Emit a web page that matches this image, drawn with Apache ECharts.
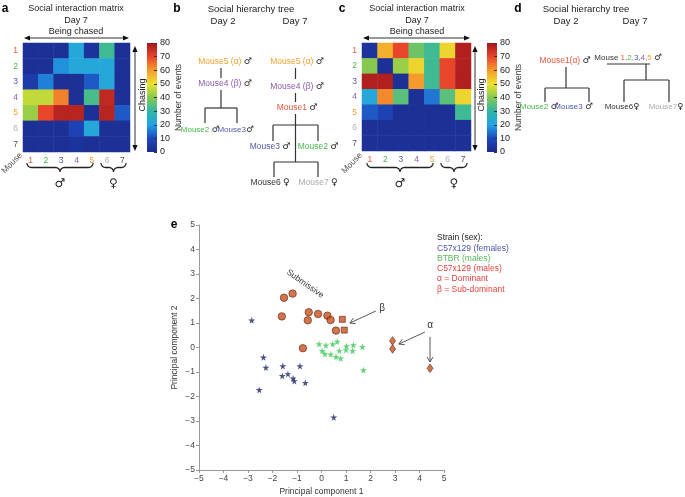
<!DOCTYPE html>
<html><head><meta charset="utf-8">
<script src="https://cdn.jsdelivr.net/npm/echarts@6/dist/echarts.min.js"></script>
<style>html,body{margin:0;padding:0;background:#fff}#c{width:685px;height:497px}</style>
</head><body><div id="c"></div>
<script>
const FONT = 'Liberation Sans, Arial, Helvetica, sans-serif';
// ---------- data ----------
const mice = ['1','2','3','4','5','6','7'];
const mouseColors = ['#e8583c','#45b649','#5058a8','#8c5aa8','#f0a030','#b0b0b0','#505050'];
// rows = chasing mouse, columns = mouse being chased
const matrixA = [
  [2, 2, 2, 22, 3, 32, 2],
  [2, 2, 18, 22, 22, 22, 2],
  [6, 16, 2, 2, 12, 22, 2],
  [46, 46, 63, 2, 33, 76, 2],
  [42, 70, 77, 77, 2, 77, 12],
  [2, 2, 2, 8, 22, 2, 2],
  [2, 2, 2, 3, 2, 2, 2]
];
const matrixC = [
  [3, 57, 70, 37, 32, 52, 78],
  [40, 2, 42, 52, 32, 70, 78],
  [78, 78, 2, 60, 32, 70, 78],
  [22, 62, 35, 2, 15, 35, 52],
  [12, 8, 2, 2, 2, 2, 32],
  [2, 2, 2, 2, 2, 2, 2],
  [2, 2, 2, 2, 2, 2, 2]
];
const colorbarMax = 80;
const colorbarStep = 10;
const jetColors = ['#1c2a8c','#1d48bd','#22a3e6','#2fb6a6','#86c94e','#ece22e','#f59a2c','#e8452a','#a3161c'];
const pcMin = -5, pcMax = 5, pcStep = 1;
const females = [[-2.85,1.11],[-2.37,-0.40],[-2.27,-0.82],[-1.58,-0.76],[-0.88,-0.76],[-2.54,-1.73],[-1.60,-1.16],[-1.37,-1.08],[-1.16,-1.26],[-1.11,-1.37],[-0.66,-1.44],[0.50,-2.85]];
const btbr = [[-0.10,0.14],[0.18,0.09],[0.46,0.14],[0.64,0.24],[1.02,0.06],[1.30,0.10],[1.67,0.03],[0.03,-0.14],[0.14,-0.27],[0.38,-0.28],[0.59,-0.38],[0.78,-0.44],[0.73,-0.13],[1.00,-0.10],[1.27,-0.14],[1.71,-0.92]];
const malesCircle = [[-1.53,2.03],[-1.18,2.20],[-1.62,1.27],[-0.52,1.44],[-0.56,1.11],[-0.14,1.37],[0.24,1.30],[0.37,1.12],[0.59,0.69],[-0.76,-0.03]];
const malesSquare = [[0.85,1.15],[0.93,0.71]];
const malesDiamond = [[2.90,0.27],[2.90,-0.06],[4.43,-0.85]];

// ---------- helpers ----------
const chart = echarts.init(document.getElementById('c'));
function cells(m){ const d=[]; m.forEach((row,r)=>row.forEach((v,c)=>d.push([c,r,v]))); return d; }
const rich = {}; mouseColors.forEach((c,i)=>rich['m'+i]={color:c,fontSize:8.5,fontFamily:FONT});
const labelFmt = (v,i)=>'{m'+i+'|'+v+'}';
const xAxes = [], yAxes = [];
function hmAxes(g){
  xAxes.push({type:'category',gridIndex:g,data:mice,axisLine:{show:false},axisTick:{show:false},axisLabel:{interval:0,formatter:labelFmt,rich:rich,margin:4},splitLine:{show:false}});
  yAxes.push({type:'category',gridIndex:g,data:mice,inverse:true,axisLine:{show:false},axisTick:{show:false},axisLabel:{interval:0,formatter:labelFmt,rich:rich,margin:5},splitLine:{show:false}});
}
function cbAxes(g){
  xAxes.push({type:'category',gridIndex:g,data:[''],show:false});
  yAxes.push({type:'value',gridIndex:g,min:0,max:colorbarMax,interval:colorbarStep,position:'right',z:5,
    axisLine:{show:false},axisTick:{show:true,inside:true,length:3,lineStyle:{color:'#333'}},
    axisLabel:{fontSize:9,color:'#222',margin:3,fontFamily:FONT},splitLine:{show:false},
    name:'Number of events',nameLocation:'middle',nameGap:14,nameTextStyle:{fontSize:8.5,color:'#333',fontFamily:FONT}});
}
hmAxes(0); cbAxes(1); hmAxes(2); cbAxes(3);
const pcAxis = (name,gap)=>({type:'value',gridIndex:4,min:pcMin,max:pcMax,interval:pcStep,
  axisLine:{onZero:false,lineStyle:{color:'#999'}},axisTick:{length:3,lineStyle:{color:'#999'}},
  axisLabel:{fontSize:8.5,color:'#444',margin:4,fontFamily:FONT,formatter:v=>String(v).replace('-','\u2212')},
  splitLine:{show:false},name:name,nameLocation:'middle',nameGap:gap,nameTextStyle:{fontSize:8.5,color:'#333',fontFamily:FONT}});
xAxes.push(pcAxis('Principal component 1',17));
yAxes.push(pcAxis('Principal component 2',20));

const gradient = {type:'linear',x:0,y:1,x2:0,y2:0,colorStops:jetColors.map((c,i)=>({offset:i/(jetColors.length-1),color:c}))};
const star = 'path://M50,0 L61,35 L98,35 L68,57 L79,91 L50,70 L21,91 L32,57 L2,35 L39,35 Z';
const redFill = '#c9501f', redLine = '#4a1a08';

// ---------- graphics ----------
const G = [];
function txt(x,y,text,o){ o=o||{}; G.push({type:'text',x:x,y:y,rotation:o.rot||0,z:10,style:{text:text,fill:o.color||'#222',fontSize:o.size||8.5,fontFamily:o.family||FONT,fontWeight:o.weight||'normal',align:o.align||'center',verticalAlign:'middle',rich:o.rich}}); }
function line(x1,y1,x2,y2,w,c){ G.push({type:'line',z:10,shape:{x1,y1,x2,y2},style:{stroke:c||'#333',lineWidth:w||1.2}}); }
function tri(x,y,dx,dy){ // filled arrow head pointing in direction (dx,dy)
  const L=6,W=2.6, px=-dy, py=dx;
  G.push({type:'polygon',z:10,shape:{points:[[x,y],[x-dx*L+px*W,y-dy*L+py*W],[x-dx*L-px*W,y-dy*L-py*W]]},style:{fill:'#111'}});
}
function dblArrowH(x1,x2,y){ line(x1+4,y,x2-4,y,1); tri(x1,y,-1,0); tri(x2,y,1,0); }
function dblArrowV(x,y1,y2){ line(x,y1+4,x,y2-4,1); tri(x,y1,0,-1); tri(x,y2,0,1); }
function brace(x1,x2,y0,h){
  const r=h/2, xm=(x1+x2)/2, pts=[]; const N=8;
  for(let i=0;i<=N;i++){const t=i/N*Math.PI/2; pts.push([x1+r-r*Math.cos(t), y0+r*Math.sin(t)]);}
  for(let i=0;i<=N;i++){const t=i/N*Math.PI/2; pts.push([xm-r+r*Math.sin(t), y0+h-r*Math.cos(t)]);}
  for(let i=0;i<=N;i++){const t=i/N*Math.PI/2; pts.push([xm+r-r*Math.cos(t), y0+h-r*Math.sin(t)]);}
  for(let i=0;i<=N;i++){const t=i/N*Math.PI/2; pts.push([x2-r+r*Math.sin(t), y0+r*Math.cos(t)]);}
  G.push({type:'polyline',z:10,shape:{points:pts},style:{stroke:'#222',lineWidth:1.3,fill:'none'}});
}
const SYM = 'DejaVu Sans, sans-serif';
function matrixDecor(cx, hx1, hx2, ax, tx, b){
  txt(cx,9,'Social interaction matrix',{size:9});
  txt(cx,21,'Day 7',{size:9});
  txt(cx,31.5,'Being chased',{size:9});
  dblArrowH(hx1,hx2,38);
  dblArrowV(ax,46,151);
  txt(tx,95,'Chasing',{size:9,rot:Math.PI/2});
  brace(b[0],b[1],163,9); brace(b[2],b[3],163,9);
  txt((b[0]+b[1])/2,184,'\u2642',{size:12,family:SYM});
  txt((b[2]+b[3])/2,184,'\u2640',{size:12,family:SYM});
}
txt(5,9,'a',{size:12,weight:'bold',color:'#000'});
txt(177,9,'b',{size:12,weight:'bold',color:'#000'});
txt(342,9,'c',{size:12,weight:'bold',color:'#000'});
txt(518,9,'d',{size:12,weight:'bold',color:'#000'});
txt(174,225,'e',{size:12,weight:'bold',color:'#000'});
matrixDecor(76,24,129,135,142.5,[27,93,101,126]);
matrixDecor(417,363,470,475,482,[367,433,441,467]);
txt(12,163,'Mouse',{size:8.5,color:'#555',rot:Math.PI/4});
txt(352,163,'Mouse',{size:8.5,color:'#555',rot:Math.PI/4});

// tree labels
function mkRich(fs){
  const R = {o:{fill:mouseColors[4]},p:{fill:mouseColors[3]},r:{fill:mouseColors[0]},g:{fill:mouseColors[1]},b:{fill:mouseColors[2]},k:{fill:'#333'},l:{fill:'#aaa'},s:{fill:'#222',fontSize:fs+0.5,fontFamily:SYM}};
  Object.values(R).forEach(v=>{if(!v.fontFamily) v.fontFamily=FONT; if(!v.fontSize) v.fontSize=fs;});
  return R;
}
const TR = mkRich(8.5), TS = mkRich(8);
function tl(x,y,t){ txt(x,y,t,{rich:TR}); }
function ts(x,y,t){ txt(x,y,t,{rich:TS}); }
// panel b
txt(251,9,'Social hierarchy tree',{size:9.5});
txt(223,21,'Day 2',{size:9.5}); txt(295,21,'Day 7',{size:9.5});
tl(225,62,'{o|Mouse5 (\u03b1)} {s|\u2642}');
line(221,68,221,78);
tl(225,84,'{p|Mouse4 (\u03b2)} {s|\u2642}');
line(221,90,221,108); line(205,108,237,108); line(205,108,205,123); line(237,108,237,123);
ts(200,130,'{g|Mouse2} {s|\u2642}'); ts(235.5,130,'{b|Mouse3}{s|\u2642}');
tl(297,62,'{o|Mouse5 (\u03b1)} {s|\u2642}');
line(295.5,68,295.5,79);
tl(297,87,'{p|Mouse4 (\u03b2)} {s|\u2642}');
line(295.5,93,295.5,102);
tl(297,108,'{r|Mouse1} {s|\u2642}');
line(295.5,114,295.5,162);
line(273,125,318,125); line(273,125,273,141); line(318,125,318,141);
tl(270,147,'{b|Mouse3} {s|\u2642}'); tl(318,147,'{g|Mouse2} {s|\u2642}');
line(274,162,318,162); line(274,162,274,177); line(318,162,318,177);
tl(270,183,'{k|Mouse6} {s|\u2640}'); tl(318,183,'{l|Mouse7} {s|\u2640}');
// panel d
txt(586,9,'Social hierarchy tree',{size:9.5});
txt(566,21,'Day 2',{size:9.5}); txt(635,21,'Day 7',{size:9.5});
tl(565,61,'{r|Mouse1(\u03b1)} {s|\u2642}');
line(566,67,566,88); line(545,88,589,88); line(545,88,545,102); line(589,88,589,102);
ts(539,107,'{g|Mouse2} {s|\u2642}'); ts(573.5,107,'{b|Mouse3} {s|\u2642}');
ts(628,58,'{k|Mouse }{r|1,}{g|2,}{b|3,}{p|4,}{o|5} {s|\u2642}');
line(607,64,650,64); line(646,64,646,80);
line(624,80,669,80); line(624,80,624,102); line(669,80,669,102);
ts(622,107,'{k|Mouse6}{s|\u2640}'); ts(666,107,'{l|Mouse7}{s|\u2640}');
// legend of panel e
txt(437,238,'Strain (sex):',{align:'left',color:'#222'});
txt(437,248.5,'C57x129 (females)',{align:'left',color:'#4a56a6'});
txt(437,259,'BTBR (males)',{align:'left',color:'#55b95a'});
txt(437,269,'C57x129 (males)',{align:'left',color:'#e2423c'});
txt(437,279,'\u03b1 = Dominant',{align:'left',color:'#e2423c'});
txt(437,289.5,'\u03b2 = Sub-dominant',{align:'left',color:'#e2423c'});

const option = {
  animation:false,
  backgroundColor:'#fff',
  textStyle:{fontFamily:FONT},
  grid:[
    {left:23,top:43,width:107,height:109},
    {left:147,top:43,width:10,height:109},
    {left:362,top:43,width:109,height:108},
    {left:487,top:43,width:10,height:109},
    {left:199,top:225,width:245,height:246}
  ],
  xAxis:xAxes, yAxis:yAxes,
  visualMap:[
    {show:false,seriesIndex:0,min:0,max:colorbarMax,inRange:{color:jetColors}},
    {show:false,seriesIndex:2,min:0,max:colorbarMax,inRange:{color:jetColors}}
  ],
  series:[
    {type:'heatmap',xAxisIndex:0,yAxisIndex:0,data:cells(matrixA),emphasis:{disabled:true}},
    {type:'bar',xAxisIndex:1,yAxisIndex:1,data:[colorbarMax],barWidth:'100%',itemStyle:{color:gradient},silent:true},
    {type:'heatmap',xAxisIndex:2,yAxisIndex:2,data:cells(matrixC),emphasis:{disabled:true}},
    {type:'bar',xAxisIndex:3,yAxisIndex:3,data:[colorbarMax],barWidth:'100%',itemStyle:{color:gradient},silent:true},
    {type:'scatter',name:'C57x129 (females)',xAxisIndex:4,yAxisIndex:4,data:females,symbol:star,symbolSize:7,itemStyle:{color:'#1f2766'}},
    {type:'scatter',name:'BTBR (males)',xAxisIndex:4,yAxisIndex:4,data:btbr,symbol:star,symbolSize:7,itemStyle:{color:'#3ec85a'}},
    {type:'scatter',name:'C57x129 (males)',xAxisIndex:4,yAxisIndex:4,data:malesCircle,symbol:'circle',symbolSize:7.5,itemStyle:{color:redFill,borderColor:redLine,borderWidth:0.7}},
    {type:'scatter',name:'Sub-dominant',xAxisIndex:4,yAxisIndex:4,data:malesSquare,symbol:'rect',symbolSize:6,itemStyle:{color:redFill,borderColor:redLine,borderWidth:0.7}},
    {type:'scatter',name:'Dominant',xAxisIndex:4,yAxisIndex:4,data:malesDiamond,symbol:'diamond',symbolSize:[6,8.5],itemStyle:{color:redFill,borderColor:redLine,borderWidth:0.7}}
  ],
  graphic:{elements:G}
};
chart.setOption(option);

// annotations in data space of panel e
const P = (x,y)=>chart.convertToPixel({gridIndex:4},[x,y]);
function openArrow(a,b){
  const p1=P(a[0],a[1]), p2=P(b[0],b[1]);
  line(p1[0],p1[1],p2[0],p2[1],0.9,'#444');
  const dx=p2[0]-p1[0], dy=p2[1]-p1[1], L=Math.hypot(dx,dy), ux=dx/L, uy=dy/L, s=5, w=3;
  G.push({type:'polyline',z:10,shape:{points:[[p2[0]-ux*s-uy*w,p2[1]-uy*s+ux*w],[p2[0],p2[1]],[p2[0]-ux*s+uy*w,p2[1]-uy*s-ux*w]]},style:{stroke:'#444',lineWidth:0.9,fill:'none'}});
}
openArrow([2.22,1.49],[1.16,1.0]);
openArrow([4.22,0.63],[3.16,0.14]);
openArrow([4.43,0.43],[4.43,-0.59]);
let q=P(2.47,1.6); txt(q[0],q[1],'\u03b2',{size:10,color:'#333'});
q=P(4.43,0.9); txt(q[0],q[1],'\u03b1',{size:10,color:'#333'});
q=P(-0.67,2.6); txt(q[0],q[1],'Submissive',{size:8.5,color:'#333',rot:-35*Math.PI/180});
chart.setOption({graphic:{elements:G}});
</script></body></html>
